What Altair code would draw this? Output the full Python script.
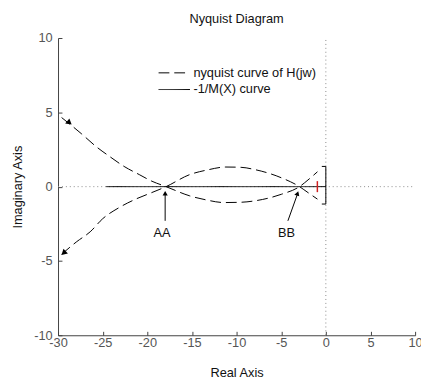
import altair as alt
import pandas as pd

FONT = "Liberation Sans"

# ---- data ----
x_ticks = [-30, -25, -20, -15, -10, -5, 0, 5, 10]
y_ticks = [-10, -5, 0, 5, 10]

lab_nyq = "nyquist curve of H(jw)"
lab_m = "-1/M(X) curve"

# branch A: from upper-left, through AA, lower lens, through BB, up to the right
nyq_a_x = [-29.6, -27.4, -25.7, -24.2, -22.6, -20.9, -19.5, -17.9, -15.25, -13.5, -11.4, -9.5, -7.9, -4.96, -2.95, -2.0, -0.94]
nyq_a_y = [4.65, 3.57, 2.68, 2.02, 1.36, 0.81, 0.37, 0.0, -0.62, -0.88, -1.07, -1.05, -0.95, -0.51, 0.0, 0.45, 1.0]
# branch B: from lower-left, through AA, upper lens, through BB, down to the right
nyq_b_x = [-29.6, -27.9, -26.4, -25.0, -23.1, -21.3, -19.5, -17.9, -15.25, -13.3, -11.2, -9.5, -7.9, -4.96, -2.95, -2.0, -0.94]
nyq_b_y = [-4.55, -3.7, -3.04, -2.16, -1.39, -0.84, -0.4, 0.0, 0.81, 1.12, 1.32, 1.3, 1.14, 0.59, 0.0, -0.4, -0.84]

m_x = [-24.6, 0.0]
m_y = [0.0, 0.0]

bracket_x = [-0.45, 0.0, 0.0, -0.45]
bracket_y = [1.36, 1.36, -1.17, -1.17]

red_x = [-0.95]
red_y1 = [-0.37]
red_y2 = [0.37]

head_x = [-28.8, -29.3, -18.0, -3.2]
head_y = [4.34, -4.42, -0.5, -0.5]
head_ang = [130, 227, 0, 19]
head_size = [45, 45, 28, 28]

note_text = ["AA", "BB"]
note_x = [-18.35, -4.4]
note_y = [-3.1, -3.1]

arr_x1 = [-18.0, -4.25]
arr_y1 = [-2.3, -2.3]
arr_x2 = [-18.0, -3.15]
arr_y2 = [-0.45, -0.45]

# ---- tables ----
df_nyq = pd.DataFrame({
    "x": nyq_a_x + nyq_b_x,
    "y": nyq_a_y + nyq_b_y,
    "branch": ["a"] * len(nyq_a_x) + ["b"] * len(nyq_b_x),
    "ord": list(range(len(nyq_a_x))) + list(range(len(nyq_b_x))),
    "series": [lab_nyq] * (len(nyq_a_x) + len(nyq_b_x)),
})
df_m = pd.DataFrame({"x": m_x, "y": m_y, "series": [lab_m] * len(m_x)})
df_br = pd.DataFrame({"x": bracket_x, "y": bracket_y, "ord": list(range(len(bracket_x)))})
df_red = pd.DataFrame({"x": red_x, "y": red_y1, "y2": red_y2})
df_v = pd.DataFrame({"x": [0.0], "y": [-10.0], "y2": [10.0]})
df_h = pd.DataFrame({"x": [-30.0], "x2": [10.0], "y": [0.0]})
df_heads = pd.DataFrame({"x": head_x, "y": head_y, "ang": head_ang, "size": head_size})
df_notes = pd.DataFrame({"t": note_text, "x": note_x, "y": note_y})
df_arr = pd.DataFrame({"x": arr_x1, "y": arr_y1, "x2": arr_x2, "y2": arr_y2})

W, H = 364, 303
xs = alt.Scale(domain=[-30, 10], nice=False, zero=False)
ys = alt.Scale(domain=[-10, 10], nice=False, zero=False)

main_x_axis = alt.Axis(values=x_ticks, labelExpr="toString(datum.value)", ticks=False, tickSize=0,
                       grid=False, domainColor="#404040", labelColor="#555555", labelFontSize=13,
                       labelFont=FONT, labelPadding=1, labelFlush=False, labelOverlap=False,
                       title="Real Axis", titleFont=FONT, titleFontSize=13, titleFontWeight="normal",
                       titleColor="#111111", titlePadding=18)
main_y_axis = alt.Axis(values=y_ticks, labelExpr="toString(datum.value)", ticks=False, tickSize=0,
                       grid=False, domainColor="#404040", labelColor="#555555", labelFontSize=13,
                       labelFont=FONT, labelPadding=6, labelFlush=False, labelOverlap=False,
                       title="Imaginary Axis", titleFont=FONT, titleFontSize=13, titleFontWeight="normal",
                       titleColor="#111111", titlePadding=9)
tick_x_axis = alt.Axis(orient="top", offset=-H, values=x_ticks, labels=False, domain=False, ticks=True,
                       tickSize=4, tickColor="#404040", grid=False, title=None)
tick_y_axis = alt.Axis(orient="right", offset=-W, values=y_ticks, labels=False, domain=False, ticks=True,
                       tickSize=4, tickColor="#404040", grid=False, title=None)

vline = alt.Chart(df_v).mark_rule(color="#8a8a8a", strokeWidth=1, strokeDash=[1, 3]).encode(
    x=alt.X("x:Q", scale=xs, axis=main_x_axis),
    y=alt.Y("y:Q", scale=ys, axis=main_y_axis),
    y2="y2:Q",
)
hline = alt.Chart(df_h).mark_rule(color="#8a8a8a", strokeWidth=1, strokeDash=[1, 3]).encode(
    x=alt.X("x:Q", scale=xs, axis=None), x2="x2:Q",
    y=alt.Y("y:Q", scale=ys, axis=None),
)

dash_scale = alt.Scale(domain=[lab_nyq, lab_m], range=[[11, 5], [1, 0]])
leg = alt.Legend(title=None, orient="none", legendX=110, legendY=27, padding=0,
                 symbolType="M-2,0H2", symbolSize=256, symbolStrokeWidth=1, symbolStrokeColor="black",
                 labelFont=FONT, labelFontSize=13, labelColor="#111111", labelOffset=11, rowPadding=1)

nyq = alt.Chart(df_nyq).mark_line(color="black", strokeWidth=1, interpolate="monotone").encode(
    x=alt.X("x:Q", scale=xs, axis=None),
    y=alt.Y("y:Q", scale=ys, axis=None),
    detail="branch:N",
    order="ord:Q",
    strokeDash=alt.StrokeDash("series:N", scale=dash_scale, legend=leg),
)
mline = alt.Chart(df_m).mark_line(color="black", strokeWidth=1).encode(
    x=alt.X("x:Q", scale=xs, axis=None),
    y=alt.Y("y:Q", scale=ys, axis=None),
    strokeDash=alt.StrokeDash("series:N", scale=dash_scale, legend=leg),
)
bracket = alt.Chart(df_br).mark_line(color="black", strokeWidth=1).encode(
    x=alt.X("x:Q", scale=xs, axis=None),
    y=alt.Y("y:Q", scale=ys, axis=None),
    order="ord:Q",
)
red = alt.Chart(df_red).mark_rule(color="#d02020", strokeWidth=1.5).encode(
    x=alt.X("x:Q", scale=xs, axis=tick_x_axis),
    y=alt.Y("y:Q", scale=ys, axis=tick_y_axis),
    y2="y2:Q",
)
arrows = alt.Chart(df_arr).mark_rule(color="black", strokeWidth=1).encode(
    x=alt.X("x:Q", scale=xs, axis=None), x2="x2:Q",
    y=alt.Y("y:Q", scale=ys, axis=None), y2="y2:Q",
)
heads = alt.Chart(df_heads).mark_point(shape="triangle", filled=True, color="black", opacity=1).encode(
    x=alt.X("x:Q", scale=xs, axis=None),
    y=alt.Y("y:Q", scale=ys, axis=None),
    angle=alt.Angle("ang:Q", scale=None),
    size=alt.Size("size:Q", scale=None, legend=None),
)
notes = alt.Chart(df_notes).mark_text(font=FONT, fontSize=13, color="#111111", align="center",
                                      baseline="middle").encode(
    x=alt.X("x:Q", scale=xs, axis=None),
    y=alt.Y("y:Q", scale=ys, axis=None),
    text="t:N",
)

chart = alt.layer(vline, hline, mline, nyq, bracket, red, arrows, heads, notes).resolve_axis(
    x="independent", y="independent"
).properties(
    width=W, height=H,
    title=alt.TitleParams("Nyquist Diagram", font=FONT, fontSize=13, fontWeight="normal",
                          color="#111111", anchor="middle", offset=6),
    autosize=alt.AutoSizeParams(type="none"),
    padding={"left": 51, "top": 27, "right": 6, "bottom": 42},
).configure_view(stroke="transparent")

chart.save("out.html", embed_options={"renderer": "svg", "actions": False})
